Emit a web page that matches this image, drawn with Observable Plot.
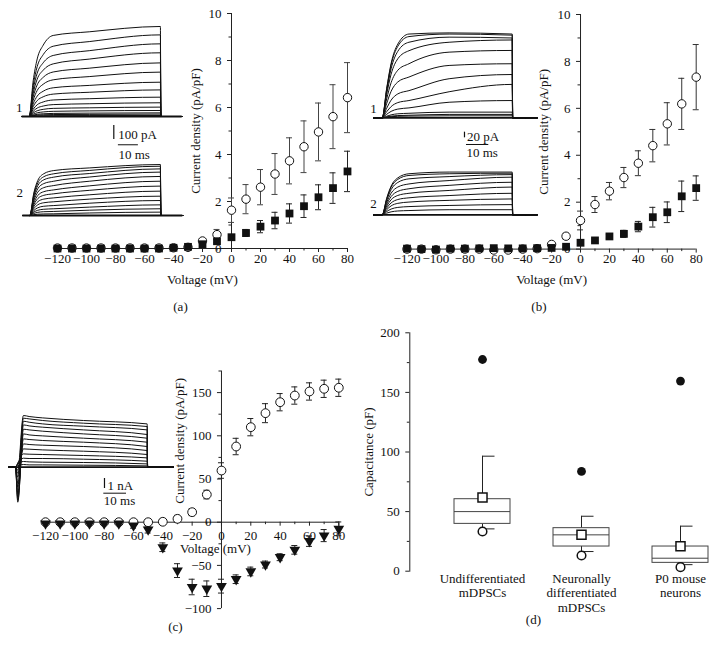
<!DOCTYPE html>
<html><head><meta charset="utf-8">
<script src="https://cdn.jsdelivr.net/npm/d3@7"></script>
<script src="https://cdn.jsdelivr.net/npm/@observablehq/plot@0.6"></script>
<style>
html,body{margin:0;padding:0;background:#fff;}
#fig{position:relative;width:718px;height:656px;overflow:hidden;background:#fff;}
</style></head><body><div id="fig"></div>
<script>
// ---------------- DATA ----------------
const voltage = [-120,-110,-100,-90,-80,-70,-60,-50,-40,-30,-20,-10,0,10,20,30,40,50,60,70,80];
const ivXTicks = [-120,-100,-80,-60,-40,-20,0,20,40,60,80];
const ivXMinor = [-110,-90,-70,-50,-30,-10,10,30,50,70];

// Panel (a)
const aOpenMean   = [0.02,0.02,0.02,0.02,0.02,0.02,0.02,0.02,0.03,0.05,0.32,0.59,1.63,2.10,2.61,3.17,3.73,4.33,4.96,5.61,6.42];
const aOpenSEM    = [0.02,0.02,0.02,0.02,0.02,0.02,0.02,0.02,0.03,0.04,0.10,0.22,0.52,0.62,0.75,0.87,0.98,1.10,1.23,1.36,1.49];
const aFilledMean = [0,0,0,0,0,0,0,0,0.03,0.07,0.18,0.31,0.48,0.66,0.93,1.19,1.49,1.80,2.18,2.57,3.28];
const aFilledSEM  = [0.01,0.01,0.01,0.01,0.01,0.01,0.01,0.01,0.02,0.03,0.05,0.07,0.10,0.15,0.26,0.35,0.41,0.48,0.53,0.65,0.86];
const abYTicks = [0,2,4,6,8,10];
const abYMinor = [1,3,5,7,9];

// Panel (b)
const bOpenMean   = [0,0,-0.03,0,0,0,-0.04,-0.04,0,0.02,0.20,0.55,1.22,1.90,2.47,3.05,3.66,4.41,5.34,6.19,7.33];
const bOpenSEM    = [0.02,0.02,0.02,0.02,0.02,0.02,0.02,0.02,0.02,0.03,0.06,0.12,0.40,0.34,0.37,0.43,0.53,0.69,0.90,1.09,1.39];
const bFilledMean = [0.02,0,-0.02,0.02,0.02,0.03,0.04,0.03,0.03,0.04,0.05,0.10,0.27,0.37,0.54,0.65,0.96,1.36,1.57,2.25,2.60];
const bFilledSEM  = [0.01,0.01,0.01,0.01,0.01,0.01,0.01,0.01,0.01,0.02,0.02,0.03,0.05,0.06,0.08,0.15,0.22,0.42,0.44,0.65,0.52];

// Panel (c)
const cOpenMean = [0,0,0,0,0,0,0,0,0.5,3.9,11.6,32,59.8,87.6,110,126.2,138.9,146.6,151.3,154.4,155.6];
const cOpenSEM  = [1,1,1,1,1,1,2,3,3,4,4,5,9,9.5,10,11,10,10,10,10,10];
const cTriMean  = [-1.5,-1.5,-1.5,-1.5,-1.5,-1.5,-3.9,-8.5,-29,-56,-75,-77,-74,-66,-57,-49,-40.5,-32,-22,-15.5,-7.7];
const cTriSEM   = [1,1,1,1,1,1,3,4,5,8,9,9,8,5,5,4,4,5,6,7,8];
const cYTicks = [-100,-50,0,50,100,150];
const cYMinor = [-75,-25,25,75,125,175];

// Panel (d)
const dGroups      = ["Undifferentiated\nmDPSCs", "Neuronally\ndifferentiated\nmDPSCs", "P0 mouse\nneurons"];
const dQ1          = [39.7, 20.7, 7.0];
const dMedian      = [50.0, 30.5, 10.9];
const dQ3          = [60.4, 36.1, 20.7];
const dWhiskerLow  = [35.5, 16.5, 5.5];
const dWhiskerHigh = [96.5, 46.1, 37.8];
const dMean        = [61.8, 30.5, 20.9];
const dMin         = [33.3, 13.2, 3.4];
const dMax         = [177.6, 83.7, 159.5];
const dYTicks = [0,50,100,150,200];
const dYMinor = [25,75,125,175];

// Inset current traces: amplitude at plateau times [12 ms, 30 ms, end of step]
const plateauT = [12, 30];
const riseT = [2, 4, 7];
const a1Frac = [0.44, 0.71, 0.88];
const a1Traces = [[579,605,643],[502,535,583],[436,470,519],[376,410,455],[318,345,383],[262,285,317],[205,222,245],[160,173,190],[118,127,138],[85,91,98],[58,62,67],[37,40,43],[22,24,26],[14,15,17],[6,6.5,7]];
const a2Frac = [0.5, 0.78, 0.93];
const a2Traces = [[321,340,364],[298,322,352],[274,300,333],[245,275,310],[214,245,279],[183,212,245],[155,180,210],[126,148,174],[98,117,138],[71,88,107],[48,60,76],[29,38,48],[12,18,24]];
const b1Frac = [0.35, 0.65, 0.88];
const b1Traces = [[296,300,296],[287,296,292],[267,285,282],[237,267,275],[191,232,238],[144,185,191],[96,138,153],[61,92,118],[35,55,61],[16,20,20],[9,12,12],[6,7,7]];
const b2Frac = [0.4, 0.7, 0.9];
const b2Traces = [[145,151,151],[139,145,147],[127,135,142],[109,121,133],[92,104,115],[76,86,98],[60,68,76],[45,51,56],[29,33,36],[15,18,18]];
// (c) traces in nA at [1, 3.5, 6, 12, 30 ms, end of step]
const cTimes = [1, 3.5, 6, 12, 30];
const cTraces = [
 [-0.3,5.17,5.07,4.93,4.67,4.33],[-1.0,4.90,4.83,4.67,4.40,4.07],[-2.0,4.60,4.50,4.33,4.10,3.73],
 [-3.0,4.23,4.13,4.00,3.73,3.27],[-3.5,3.80,3.73,3.60,3.33,2.90],[-3.3,3.33,3.23,3.13,2.90,2.50],
 [-2.6,2.83,2.77,2.67,2.50,2.07],[-1.6,2.33,2.27,2.20,2.07,1.67],[-0.6,1.83,1.80,1.73,1.60,1.27],
 [0.4,1.33,1.30,1.27,1.17,0.93],[0.4,0.90,0.87,0.87,0.80,0.60],[0.3,0.57,0.53,0.50,0.47,0.33],
 [0.15,0.27,0.23,0.23,0.20,0.13]];

// ---------------- HELPERS ----------------
const SERIF = '"Liberation Serif", "Times New Roman", Times, serif';
const baseStyle = {fontFamily: SERIF, fontSize: "13px", background: "transparent", overflow: "visible", color: "#111"};
const fig = document.getElementById("fig");
function place(svg, left, top) {
  const wrap = document.createElement("div");
  wrap.style.cssText = `position:absolute;left:${left}px;top:${top}px;`;
  svg.style.maxWidth = "none";
  wrap.appendChild(svg);
  fig.appendChild(wrap);
}
const fmt = v => v < 0 ? "\u2212" + Math.abs(v) : String(v);
const tbl = (means, sems) => voltage.map((v, i) => ({v, m: means[i], e: sems[i]}));

function ivAxes(yDomain, yTicks, yMinor, xLabelDy) {
  return [
    Plot.ruleY([0], {x1: voltage[0], x2: voltage[voltage.length - 1], stroke: "#222"}),
    Plot.ruleX([0], {y1: yDomain[0], y2: yDomain[1], stroke: "#222"}),
    Plot.ruleY(yTicks, {y: d => d, x1: 0, x2: 0, insetLeft: -4, stroke: "#222"}),
    Plot.ruleY(yMinor, {y: d => d, x1: 0, x2: 0, insetLeft: -2.5, stroke: "#222"}),
    Plot.ruleX(ivXTicks, {x: d => d, y1: 0, y2: 0, insetBottom: -4, stroke: "#222"}),
    Plot.ruleX(ivXMinor, {x: d => d, y1: 0, y2: 0, insetBottom: -2.5, stroke: "#222"}),
    Plot.text(yTicks, {x: 0, y: d => d, text: fmt, dx: -10, textAnchor: "end", fontSize: 13}),
    Plot.text(ivXTicks, {x: d => d, y: 0, text: fmt, dy: xLabelDy, fontSize: 13})
  ];
}
function errMarks(rows, stroke) {
  return [
    Plot.ruleX(rows, {x: "v", y1: d => d.m - d.e, y2: d => d.m + d.e, stroke}),
    Plot.ruleY(rows, {y: d => d.m + d.e, x1: "v", x2: "v", insetLeft: -3, insetRight: -3, stroke}),
    Plot.ruleY(rows, {y: d => d.m - d.e, x1: "v", x2: "v", insetLeft: -3, insetRight: -3, stroke})
  ];
}
const triDown = {
  draw(ctx, size) {
    const s = Math.sqrt(size / (Math.sqrt(3) / 4));
    const h = s * Math.sqrt(3) / 2;
    ctx.moveTo(0, h * 2 / 3);
    ctx.lineTo(s / 2, -h / 3);
    ctx.lineTo(-s / 2, -h / 3);
    ctx.closePath();
  }
};

// ---------------- PANEL (a) ----------------
const aOpen = tbl(aOpenMean, aOpenSEM), aFilled = tbl(aFilledMean, aFilledSEM);
place(Plot.plot({
  width: 360, height: 320, marginLeft: 57, marginRight: 13, marginTop: 13, marginBottom: 72,
  x: {domain: [-120, 80], axis: null}, y: {domain: [0, 10], axis: null},
  style: baseStyle,
  marks: [
    ...ivAxes([0, 10], abYTicks, abYMinor, 10),
    ...errMarks(aFilled, "#222"),
    ...errMarks(aOpen, "#444"),
    Plot.dot(aOpen, {x: "v", y: "m", r: 4.2, fill: "white", stroke: "#111", strokeWidth: 1}),
    Plot.dot(aFilled, {x: "v", y: "m", r: 4.4, symbol: "square", fill: "#111"}),
    Plot.text(["Current density (pA/pF)"], {frameAnchor: "left", textAnchor: "middle", dx: 138, rotate: -90, fontSize: 13}),
    Plot.text(["Voltage (mV)"], {frameAnchor: "bottom", dy: 35, fontSize: 13}),
    Plot.text(["(a)"], {frameAnchor: "bottom", dx: -22, dy: 62, fontSize: 13})
  ]
}), 0, 0);

// ---------------- PANEL (b) ----------------
const bOpen = tbl(bOpenMean, bOpenSEM), bFilled = tbl(bFilledMean, bFilledSEM);
place(Plot.plot({
  width: 358, height: 320, marginLeft: 46.5, marginRight: 22.3, marginTop: 14, marginBottom: 71.4,
  x: {domain: [-120, 80], axis: null}, y: {domain: [0, 10], axis: null},
  style: baseStyle,
  marks: [
    ...ivAxes([0, 10], abYTicks, abYMinor, 10),
    ...errMarks(bFilled, "#222"),
    ...errMarks(bOpen, "#333"),
    Plot.dot(bOpen, {x: "v", y: "m", r: 4.2, fill: "white", stroke: "#111", strokeWidth: 1}),
    Plot.dot(bFilled, {x: "v", y: "m", r: 4.4, symbol: "square", fill: "#111"}),
    Plot.text(["Current density (pA/pF)"], {frameAnchor: "left", textAnchor: "middle", dx: 137, rotate: -90, fontSize: 13}),
    Plot.text(["Voltage (mV)"], {frameAnchor: "bottom", dy: 34.5, fontSize: 13}),
    Plot.text(["(b)"], {frameAnchor: "bottom", dx: -12.7, dy: 61.5, fontSize: 13})
  ]
}), 360, 0);

// ---------------- PANEL (c) ----------------
const cOpen = tbl(cOpenMean, cOpenSEM), cTri = tbl(cTriMean, cTriSEM);
place(Plot.plot({
  width: 360, height: 336, marginLeft: 45, marginRight: 21.7, marginTop: 50.5, marginBottom: 47.9,
  x: {domain: [-120, 80], axis: null}, y: {domain: [-100, 175], axis: null},
  style: baseStyle,
  marks: [
    ...ivAxes([-100, 175], cYTicks, cYMinor, 13.3),
    Plot.text(["Current density (pA/pF)"], {frameAnchor: "left", textAnchor: "middle", dx: 134, dy: -49, rotate: -90, fontSize: 13}),
    Plot.text(["Voltage (mV)"], {frameAnchor: "bottom", dx: 23.3, dy: -55.4, fontSize: 13}),
    Plot.text(["(c)"], {frameAnchor: "bottom", dx: -16.7, dy: 22, fontSize: 13}),
    ...errMarks(cOpen, "#222"),
    ...errMarks(cTri, "#222"),
    Plot.dot(cOpen, {x: "v", y: "m", r: 4.4, fill: "white", stroke: "#111", strokeWidth: 1}),
    Plot.dot(cTri, {x: "v", y: "m", r: 4.0, symbol: triDown, fill: "#111"})
  ]
}), 0, 320);

// ---------------- PANEL (d) ----------------
const dRows = dGroups.map((g, i) => ({g, q1: dQ1[i], med: dMedian[i], q3: dQ3[i], lo: dWhiskerLow[i], hi: dWhiskerHigh[i], mean: dMean[i], min: dMin[i], max: dMax[i]}));
place(Plot.plot({
  width: 358, height: 336, marginLeft: 49.3, marginRight: 0, marginTop: 12.3, marginBottom: 85.3,
  x: {type: "band", domain: dGroups, range: [71, 370.6], paddingInner: 0.43, paddingOuter: 0.215, axis: null},
  y: {domain: [0, 200]},
  style: baseStyle,
  marks: [
    Plot.frame({anchor: "left", stroke: "#222"}),
    Plot.axisY(dYTicks, {anchor: "left", tickSize: 4, tickPadding: 6, label: null, fontSize: 13, stroke: "#222"}),
    Plot.axisY(dYMinor, {anchor: "left", tickSize: 2.5, tickFormat: () => "", label: null, stroke: "#222"}),
    Plot.ruleX(dRows, {x: "g", y1: "q3", y2: "hi", stroke: "#222"}),
    Plot.ruleX(dRows, {x: "g", y1: "q1", y2: "lo", stroke: "#222"}),
    Plot.tickY(dRows, {x: "g", y: "hi", insetLeft: 28.5, insetRight: 15.5, stroke: "#222"}),
    Plot.tickY(dRows, {x: "g", y: "lo", insetLeft: 28.5, insetRight: 15.5, stroke: "#222"}),
    Plot.barY(dRows, {x: "g", y1: "q1", y2: "q3", fill: "white", stroke: "#444", inset: 0}),
    Plot.tickY(dRows, {x: "g", y: "med", stroke: "#444"}),
    Plot.dot(dRows, {x: "g", y: "mean", symbol: "square", r: 5.1, fill: "white", stroke: "#111"}),
    Plot.dot(dRows, {x: "g", y: "min", r: 4.3, fill: "white", stroke: "#111"}),
    Plot.dot(dRows, {x: "g", y: "max", r: 4.4, fill: "#111"}),
    Plot.text(dRows, {x: "g", text: "g", frameAnchor: "bottom", lineAnchor: "top", dy: 1, lineHeight: 1.12, fontSize: 13}),
    Plot.text(["Capacitance (pF)"], {frameAnchor: "left", textAnchor: "middle", dx: -41, rotate: -90, fontSize: 13}),
    Plot.text(["(d)"], {frameAnchor: "bottom", dx: -30.7, dy: 52.3, fontSize: 13})
  ]
}), 360, 320);

// ---------------- INSETS ----------------
function riseRows(traces, frac, pulseEnd, baseStart, baseEnd) {
  const rows = [];
  traces.forEach((tr, id) => {
    const [v12, v30, vEnd] = tr;
    const pts = [[baseStart, 0], [0, 0], ...riseT.map((t, k) => [t, frac[k] * v12]),
      [plateauT[0], v12], [plateauT[1], v30], [pulseEnd, vEnd], [pulseEnd + 0.2, 0], [baseEnd, 0]];
    pts.forEach(([t, a]) => rows.push({id, t, a}));
  });
  return rows;
}
function cRows(traces, pulseEnd, baseStart, baseEnd) {
  const rows = [];
  traces.forEach((tr, id) => {
    const pts = [[baseStart, 0], [0, 0], ...cTimes.map((t, k) => [t, tr[k]]), [pulseEnd, tr[5]], [pulseEnd + 0.2, 0], [baseEnd, 0]];
    pts.forEach(([t, a]) => rows.push({id, t, a}));
  });
  return rows;
}
function inset({svgLeft, svgTop, svgW, svgH, onsetX, baseY, pxPerMs, pxPerUnit, baseStart, baseEnd, rows, extra = []}) {
  const tMin = (svgLeft - onsetX) / pxPerMs, tMax = tMin + svgW / pxPerMs;
  const aMax = (baseY - svgTop) / pxPerUnit, aMin = aMax - svgH / pxPerUnit;
  place(Plot.plot({
    width: svgW, height: svgH, margin: 0,
    x: {domain: [tMin, tMax], axis: null}, y: {domain: [aMin, aMax], axis: null},
    style: baseStyle,
    marks: [
      Plot.ruleY([0], {x1: baseStart, x2: baseEnd, strokeWidth: 1.8, stroke: "#111"}),
      Plot.line(rows, {x: "t", y: "a", z: "id", stroke: "#111", strokeWidth: 1, curve: "monotone-x"}),
      ...extra
    ]
  }), svgLeft, svgTop);
}

// (a) insets
const aPulse = 65.6, aStart = -3.5, aEnd = 76.5;
inset({svgLeft: 10, svgTop: 15, svgW: 180, svgH: 150, onsetX: 28.7, baseY: 116, pxPerMs: 2.0, pxPerUnit: 0.14,
  baseStart: aStart, baseEnd: aEnd, rows: riseRows(a1Traces, a1Frac, aPulse, aStart, aEnd),
  extra: [
    Plot.text(["1"], {x: aStart, y: 0, dx: -3, dy: -9, fontSize: 13}),
    Plot.ruleX([42.3], {y1: -64, y2: -164, strokeWidth: 1.2}),
    Plot.text(["100 pA"], {x: 42.3, y: -114, dx: 4.5, dy: 2, textAnchor: "start", fontSize: 13}),
    Plot.ruleY([-202], {x1: 44.6, x2: 54.6, strokeWidth: 1}),
    Plot.text(["10 ms"], {x: 44.6, y: -202, dy: 10, textAnchor: "start", fontSize: 13})
  ]});
inset({svgLeft: 10, svgTop: 155, svgW: 180, svgH: 65, onsetX: 29.3, baseY: 215, pxPerMs: 2.0, pxPerUnit: 0.14,
  baseStart: aStart, baseEnd: aEnd, rows: riseRows(a2Traces, a2Frac, aPulse - 0.3, aStart, aEnd),
  extra: [Plot.text(["2"], {x: aStart, y: 0, dx: -3, dy: -23, fontSize: 13})]});

// (b) insets
const bPulse = 58.3, bStart = -3.9, bEnd = 69.6;
inset({svgLeft: 365, svgTop: 20, svgW: 180, svgH: 145, onsetX: 381.7, baseY: 117.3, pxPerMs: 2.23, pxPerUnit: 0.283,
  baseStart: bStart, baseEnd: bEnd, rows: riseRows(b1Traces, b1Frac, bPulse, bStart, bEnd),
  extra: [
    Plot.text(["1"], {x: bStart, y: 0, dx: 0, dy: -9, fontSize: 13}),
    Plot.ruleX([36.9], {y1: -50.8, y2: -70.8, strokeWidth: 1.2}),
    Plot.text(["20 pA"], {x: 36.9, y: -60.8, dx: 2.5, dy: 2, textAnchor: "start", fontSize: 13}),
    Plot.ruleY([-94.3], {x1: 37.8, x2: 47.8, strokeWidth: 1}),
    Plot.text(["10 ms"], {x: 37.8, y: -94.3, dy: 8.5, textAnchor: "start", fontSize: 13})
  ]});
inset({svgLeft: 365, svgTop: 160, svgW: 180, svgH: 62, onsetX: 381.7, baseY: 214.3, pxPerMs: 2.23, pxPerUnit: 0.283,
  baseStart: bStart, baseEnd: bEnd, rows: riseRows(b2Traces, b2Frac, bPulse, bStart, bEnd),
  extra: [Plot.text(["2"], {x: bStart, y: 0, dx: 0, dy: -11, fontSize: 13})]});

// (c) inset
const cPulse = 58, cStart = -2.95, cEnd = 69.6;
inset({svgLeft: 0, svgTop: 400, svgW: 180, svgH: 110, onsetX: 15, baseY: 466.7, pxPerMs: 2.27, pxPerUnit: 10,
  baseStart: cStart, baseEnd: cEnd, rows: cRows(cTraces, cPulse, cStart, cEnd),
  extra: [
    Plot.ruleX([39.2], {y1: -1.13, y2: -2.13, strokeWidth: 1.2}),
    Plot.text(["1 nA"], {x: 39.2, y: -1.63, dx: 3, dy: 2.5, textAnchor: "start", fontSize: 13}),
    Plot.ruleY([-2.6], {x1: 38.9, x2: 48.9, strokeWidth: 1}),
    Plot.text(["10 ms"], {x: 38.9, y: -2.6, dy: 7.5, textAnchor: "start", fontSize: 13})
  ]});
</script></body></html>
